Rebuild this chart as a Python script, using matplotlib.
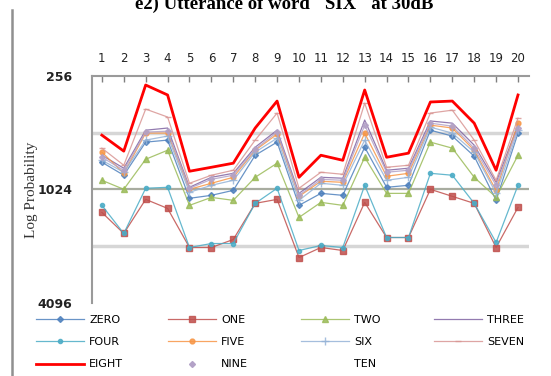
import matplotlib
matplotlib.use('Agg')
import matplotlib.pyplot as plt
from matplotlib.lines import Line2D

# Номера кадров и логарифмические вероятности по моделям слов
frames = list(range(1, 21))
zero = [735, 862, 575, 561, 1143, 1102, 1037, 675, 575, 1246, 1076, 1102, 612, 999, 975, 497, 534, 683, 1172, 515]
one = [1358, 1757, 1158, 1293, 2086, 2086, 1891, 1216, 1158, 2359, 2086, 2164, 1201, 1846, 1846, 1024, 1116, 1216, 2086, 1277]
two = [917, 1024, 709, 635, 1246, 1130, 1172, 884, 744, 1444, 1201, 1246, 692, 1076, 1076, 575, 619, 884, 1130, 675]
three = [675, 791, 497, 484, 999, 884, 842, 612, 497, 1076, 884, 894, 439, 811, 791, 444, 456, 597, 940, 467]
four = [1246, 1757, 1011, 999, 2086, 1987, 1987, 1216, 1011, 2164, 2035, 2086, 975, 1846, 1846, 842, 862, 1216, 1962, 975]
five = [650, 842, 515, 515, 1024, 951, 884, 635, 522, 1116, 928, 940, 515, 873, 842, 467, 484, 635, 1037, 456]
six = [718, 831, 561, 534, 1062, 975, 917, 650, 548, 1172, 951, 975, 561, 917, 884, 479, 515, 650, 1076, 497]
seven = [619, 763, 384, 423, 951, 862, 811, 561, 403, 1011, 831, 852, 357, 782, 763, 403, 389, 561, 917, 429]
eight = [528, 642, 286, 323, 821, 782, 744, 484, 348, 884, 675, 718, 304, 692, 658, 352, 348, 456, 811, 323]
nine = [692, 811, 509, 503, 1011, 906, 862, 627, 509, 1102, 906, 917, 467, 831, 811, 456, 473, 619, 975, 484]
ten = []

y_ticks = [256, 1024, 4096]
grid_vals = [512, 2048]

fig = plt.figure(figsize=(5.51, 3.76), dpi=100)
ax = fig.add_axes([0.167, 0.195, 0.793, 0.603])

styles = [
    ('ZERO', zero, '#4f81bd', 'D', 3),
    ('ONE', one, '#c0504d', 's', 4.5),
    ('TWO', two, '#9bbb59', '^', 4),
    ('THREE', three, '#8064a2', 'None', 0),
    ('FOUR', four, '#4bacc6', 'o', 3),
    ('FIVE', five, '#f79646', 'o', 3.5),
    ('SIX', six, '#95b3d7', '+', 6),
    ('SEVEN', seven, '#d99694', '_', 5),
]
lines = {}
for name, vals, col, mk, ms in styles:
    l, = ax.plot(frames, vals, color=col, marker=mk, markersize=ms, lw=0.9,
                 mec=col, alpha=0.85, label=name, zorder=3)
    lines[name] = l

l, = ax.plot(frames, eight, color='#ff0000', lw=2, label='EIGHT', zorder=5)
lines['EIGHT'] = l
l, = ax.plot(frames, nine, color='#b3a2c7', lw=0.9, marker='D', markersize=3,
             alpha=0.85, zorder=3)
lines['NINE'] = Line2D([], [], color='#b3a2c7', ls='None', marker='D', markersize=3)
l, = ax.plot(ten, ten, color='none', label='TEN')
lines['TEN'] = l

# линии сетки
for g in grid_vals:
    ax.axhline(g, color='#d6d6d6', lw=2.5, zorder=1)
ax.axhline(1024, color='#a8aca0', lw=1.6, zorder=1)

ax.set_yscale('log', base=2)
ax.set_ylim(4096, 256)
ax.set_yticks(y_ticks)
ax.set_yticklabels([str(v) for v in y_ticks])
ax.minorticks_off()
ax.set_xlim(0.55, 20.5)
ax.set_xticks(frames)

ax.xaxis.tick_top()
ax.tick_params(axis='x', direction='in', length=4, width=1, color='#7f7f7f',
               pad=8, labelsize=8.5, labelcolor='#222222')
ax.tick_params(axis='y', length=0, pad=14, labelsize=9, labelcolor='#222222')
for t in ax.get_yticklabels():
    t.set_fontweight('bold')

for s in ['right', 'bottom']:
    ax.spines[s].set_visible(False)
for s in ['left', 'top']:
    ax.spines[s].set_color('#9a9a9a')
    ax.spines[s].set_linewidth(1.5)

# заголовок срезан сверху, как на скане
fig.text(0.516, 1 - 9 / 376, 'e2) Utterance of word "SIX" at 30dB',
         ha='center', va='baseline', fontsize=13.5, fontweight='bold',
         family='Liberation Serif')
fig.text(32 / 551, 1 - 190 / 376, 'Log Probability', rotation=90,
         ha='center', va='center', fontsize=11, family='Liberation Serif',
         color='#333333')

# вертикальная линия слева (скан)
fig.add_artist(Line2D([12 / 551, 12 / 551], [0, 1 - 10 / 376],
                      transform=fig.transFigure, color='#909090', lw=1.8))

# легенда: четыре колонки одинаковой ширины, как в Excel
columns = [['ZERO', 'FOUR', 'EIGHT'], ['ONE', 'FIVE', 'NINE'],
           ['TWO', 'SIX', 'TEN'], ['THREE', 'SEVEN']]
col_x = [36, 168, 301, 434]
for names, x in zip(columns, col_x):
    fig.legend([lines[n] for n in names], names, loc='upper left',
               bbox_to_anchor=(x / 551, 1 - 315 / 376), frameon=False,
               fontsize=8, handlelength=4.3, handletextpad=0.5,
               labelspacing=1.1, borderpad=0, borderaxespad=0)

fig.savefig('out.png', dpi=100)
